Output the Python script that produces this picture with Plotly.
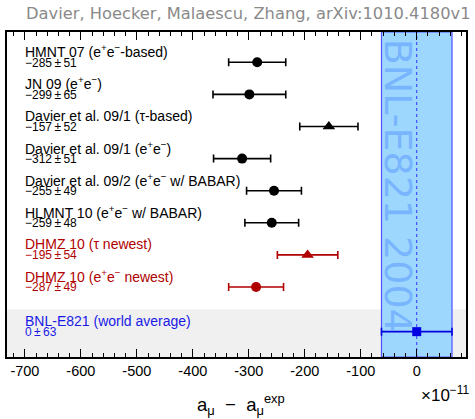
import plotly.graph_objects as go

# Theory predictions of a_mu minus the BNL-E821 measurement (units of 1e-11)
names = [
    "HMNT 07 (e<sup>+</sup>e<sup>−</sup>-based)",
    "JN 09 (e<sup>+</sup>e<sup>−</sup>)",
    "Davier et al. 09/1 (τ-based)",
    "Davier et al. 09/1 (e<sup>+</sup>e<sup>−</sup>)",
    "Davier et al. 09/2 (e<sup>+</sup>e<sup>−</sup> w/ BABAR)",
    "HLMNT 10 (e<sup>+</sup>e<sup>−</sup> w/ BABAR)",
    "DHMZ 10 (τ newest)",
    "DHMZ 10 (e<sup>+</sup>e<sup>−</sup> newest)",
]
values = [-285, -299, -157, -312, -255, -259, -195, -287]
errors = [51, 65, 52, 51, 49, 48, 54, 49]
symbols = ["circle", "circle", "triangle-up", "circle", "circle", "circle", "triangle-up", "circle"]
colors = ["black"] * 6 + ["#b00000"] * 2
rows = [1, 2, 3, 4, 5, 6, 7, 8]

exp_name = "BNL-E821 (world average)"
exp_value = 0
exp_error = 63
exp_row = 9.39

tick_vals = [-700, -600, -500, -400, -300, -200, -100, 0]
tick_text = ["-700", "-600", "-500", "-400", "-300", "-200", "-100", "0"]

x_range = [-732, 88]
y_range = [10.18, 0.056]
BLUE = "#1a1ae6"
LABEL_FONT = "Liberation Sans"
THIN = "\u2009"


def value_text(v, e):
    sign = "−" if v < 0 else ""
    return f"{sign}{abs(v)}{THIN}±{THIN}{e}"


fig = go.Figure()

# grey strip behind the experimental row
fig.add_shape(type="rect", xref="paper", yref="y", x0=0, x1=1, y0=8.69, y1=y_range[0],
              fillcolor="#f0f0f0", line_width=0, layer="below")
# experimental band with its central value
fig.add_shape(type="rect", xref="x", yref="paper", x0=exp_value - exp_error, x1=exp_value + exp_error,
              y0=0, y1=1, fillcolor="#9dd7fd", line=dict(color="#5050ff", width=1.2), layer="below")
fig.add_shape(type="line", xref="x", yref="paper", x0=exp_value, x1=exp_value, y0=0, y1=1,
              line=dict(color="#3030ff", width=1, dash="3px,3px"), layer="below")
fig.add_annotation(x=-33, y=0.526, xref="x", yref="paper", text="BNL-E821 2004", textangle=90,
                   showarrow=False, font=dict(family="DejaVu Sans", size=38, color="rgba(110,170,255,0.75)"))

for n, v, e, s, c, r in zip(names, values, errors, symbols, colors, rows):
    fig.add_trace(go.Scatter(
        x=[v], y=[r], mode="markers",
        marker=dict(symbol=s, size=10 if s == "circle" else 11, color=c),
        error_x=dict(type="data", array=[e], color=c, thickness=1.6, width=4),
        showlegend=False, hoverinfo="skip"))
    fig.add_annotation(x=0.035, y=r - 0.34, xref="paper", yref="y", text=n, showarrow=False,
                       xanchor="left", yanchor="middle",
                       font=dict(family=LABEL_FONT, size=14, color=c))
    fig.add_annotation(x=0.035, y=r + 0.01, xref="paper", yref="y", text=value_text(v, e),
                       showarrow=False, xanchor="left", yanchor="middle",
                       font=dict(family=LABEL_FONT, size=12, color=c))

fig.add_trace(go.Scatter(
    x=[exp_value], y=[exp_row], mode="markers",
    marker=dict(symbol="square", size=9, color="#0000e0"),
    error_x=dict(type="data", array=[exp_error], color="#0000e0", thickness=1.6, width=4),
    showlegend=False, hoverinfo="skip"))
fig.add_annotation(x=0.035, y=exp_row - 0.34, xref="paper", yref="y", text=exp_name, showarrow=False,
                   xanchor="left", yanchor="middle", font=dict(family=LABEL_FONT, size=14, color=BLUE))
fig.add_annotation(x=0.035, y=exp_row + 0.01, xref="paper", yref="y", text=value_text(exp_value, exp_error),
                   showarrow=False, xanchor="left", yanchor="middle",
                   font=dict(family=LABEL_FONT, size=12, color=BLUE))

# header, axis title and exponent
fig.add_annotation(x=1.0, y=1.0, xref="paper", yref="paper", yshift=19, xshift=7,
                   text="Davier, Hoecker, Malaescu, Zhang, arXiv:1010.4180v1", showarrow=False,
                   xanchor="right", yanchor="middle",
                   font=dict(family="DejaVu Sans", size=16.3, color="#8a8a8a"))
fig.add_annotation(x=0.51, y=0, xref="paper", yref="paper", yshift=-47,
                   text="a<sub>μ</sub>  −  a<sub>μ</sub><sup>exp</sup>", showarrow=False,
                   xanchor="center", yanchor="middle",
                   font=dict(family="Liberation Sans", size=18.5, color="black"))
fig.add_annotation(x=1.0, y=0, xref="paper", yref="paper", yshift=-37, xshift=6,
                   text="×10<sup>−11</sup>", showarrow=False, xanchor="right", yanchor="middle",
                   font=dict(family="Liberation Sans", size=17, color="black"))

fig.update_xaxes(range=x_range, tickvals=tick_vals, ticktext=tick_text, ticks="inside", ticklen=8,
                 tickwidth=1.2, tickcolor="black", showline=True, linecolor="black", linewidth=1.5,
                 mirror="allticks", showgrid=False, zeroline=False,
                 tickfont=dict(family="Liberation Sans", size=14.5, color="black"),
                 minor=dict(dtick=20, tick0=0, ticks="inside", ticklen=4, tickcolor="black", tickwidth=1.2,
                            showgrid=False))
fig.update_yaxes(range=y_range, showticklabels=False, ticks="", showline=True, linecolor="black",
                 linewidth=1.5, mirror=True, showgrid=False, zeroline=False)

fig.update_layout(width=475, height=419, margin=dict(l=7, r=9, t=32, b=62),
                  plot_bgcolor="white", paper_bgcolor="white")

fig.write_html("out.html")
